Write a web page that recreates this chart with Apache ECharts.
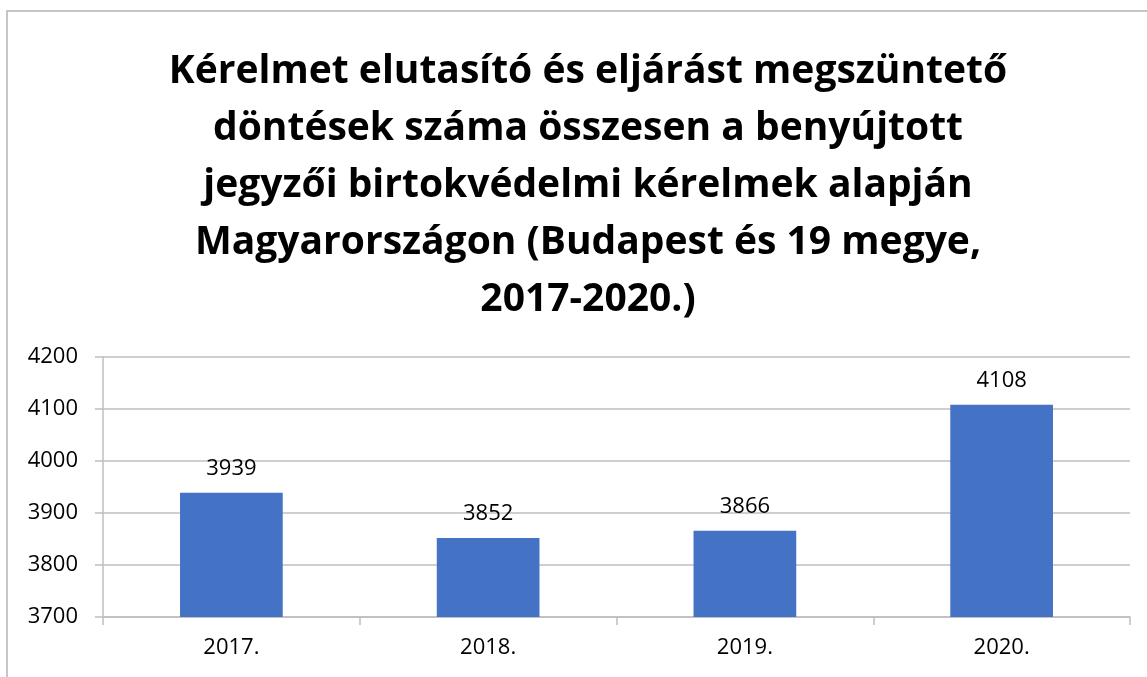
<!DOCTYPE html>
<html>
<head>
<meta charset="utf-8">
<script src="https://cdn.jsdelivr.net/npm/echarts@6/dist/echarts.min.js"></script>
<style>
  html, body { margin: 0; padding: 0; background: #fff; }
  #chart { width: 1147px; height: 677px; }
</style>
</head>
<body>
<div id="chart"></div>
<script>
// évek és döntések száma
var years = ['2017.', '2018.', '2019.', '2020.'];
var decisions = [3939, 3852, 3866, 4108];
var titleText = 'Kérelmet elutasító és eljárást megszüntető\ndöntések száma összesen a benyújtott\njegyzői birtokvédelmi kérelmek alapján\nMagyarországon (Budapest és 19 megye,\n2017-2020.)';

var chart = echarts.init(document.getElementById('chart'));
var option = {
  backgroundColor: '#fff',
  animation: false,
  graphic: [{
    type: 'rect',
    shape: { x: 7, y: 11, width: 1200, height: 720 },
    style: { fill: 'none', stroke: '#b4b4b4', lineWidth: 1.5 },
    z: -1
  }],
  title: {
    text: titleText,
    left: 583,
    textAlign: 'center',
    top: 38,
    textStyle: {
      fontFamily: 'Open Sans',
      fontWeight: 'bold',
      fontSize: 39,
      lineHeight: 57,
      color: '#000'
    }
  },
  grid: { left: 103, right: 17, top: 357, bottom: 60 },
  xAxis: {
    type: 'category',
    data: years,
    axisLine: { lineStyle: { color: '#bfbfbf', width: 1.5 } },
    axisTick: { show: true, length: 8, lineStyle: { color: '#bfbfbf', width: 1.5 } },
    axisLabel: { color: '#000', fontFamily: 'Open Sans', fontSize: 22, margin: 20 }
  },
  yAxis: {
    type: 'value',
    min: 3700,
    max: 4200,
    interval: 100,
    axisLine: { show: true, lineStyle: { color: '#bfbfbf', width: 1.5 } },
    axisTick: { show: true, length: 8, lineStyle: { color: '#bfbfbf', width: 1.5 } },
    splitLine: { lineStyle: { color: '#bfbfbf', width: 1.5 } },
    axisLabel: {
      color: '#000', fontFamily: 'Open Sans', fontSize: 22, margin: 25,
      formatter: function (v) { return String(v); }
    }
  },
  series: [{
    type: 'bar',
    data: decisions,
    barWidth: '40%',
    itemStyle: { color: '#4472C4' },
    label: {
      show: true,
      position: 'top',
      distance: 13,
      color: '#000',
      fontFamily: 'Open Sans',
      fontSize: 22
    }
  }]
};
chart.setOption(option);
</script>
</body>
</html>
